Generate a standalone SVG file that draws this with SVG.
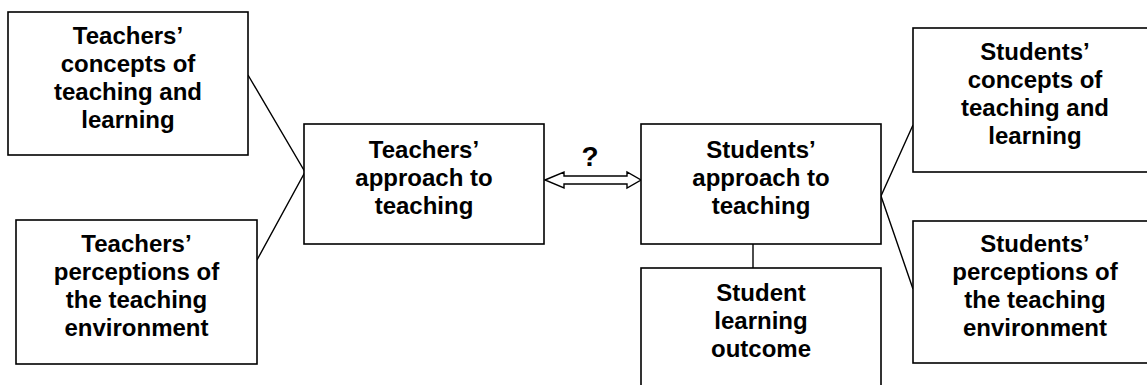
<svg xmlns="http://www.w3.org/2000/svg" width="1147" height="385" viewBox="0 0 1147 385">
<style>
.box{fill:#fff;stroke:#000;stroke-width:1.6}
.t{font-family:"Liberation Sans",Arial,sans-serif;font-weight:bold;font-size:24px;fill:#000;text-anchor:middle}
.ln{fill:none;stroke:#000;stroke-width:1.4}
</style>
<rect width="1147" height="385" fill="#fff"/>
<g id="connectors">
<polyline class="ln" points="248,75 305,172 257,260"/>
<polyline class="ln" points="913,125 881,196 913,289"/>
<line class="ln" x1="753" y1="244" x2="753" y2="268"/>
<polygon id="double-arrow" fill="#fff" stroke="#000" stroke-width="1.4" points="545,180 564,172 564,176 627,176 627,172 641,180 627,188 627,184 564,184 564,188"/>
<text class="t" x="590" y="166" style="font-size:28px">?</text>
</g>
<g id="t-concepts">
<rect class="box" x="8" y="12" width="240" height="143"/>
<text class="t" x="128" y="44">Teachers’</text>
<text class="t" x="128" y="72">concepts of</text>
<text class="t" x="128" y="100">teaching and</text>
<text class="t" x="128" y="128">learning</text>
</g>
<g id="t-perceptions">
<rect class="box" x="16" y="220" width="241" height="144"/>
<text class="t" x="136.5" y="252">Teachers’</text>
<text class="t" x="136.5" y="280">perceptions of</text>
<text class="t" x="136.5" y="308">the teaching</text>
<text class="t" x="136.5" y="336">environment</text>
</g>
<g id="t-approach">
<rect class="box" x="304" y="124" width="240" height="120"/>
<text class="t" x="424" y="158">Teachers’</text>
<text class="t" x="424" y="186">approach to</text>
<text class="t" x="424" y="214">teaching</text>
</g>
<g id="s-approach">
<rect class="box" x="641" y="124" width="240" height="120"/>
<text class="t" x="761" y="158">Students’</text>
<text class="t" x="761" y="186">approach to</text>
<text class="t" x="761" y="214">teaching</text>
</g>
<g id="s-outcome">
<rect class="box" x="641" y="268" width="240" height="130"/>
<text class="t" x="761" y="301">Student</text>
<text class="t" x="761" y="329">learning</text>
<text class="t" x="761" y="357">outcome</text>
</g>
<g id="s-concepts">
<rect class="box" x="913" y="28" width="250" height="144"/>
<text class="t" x="1035" y="60">Students’</text>
<text class="t" x="1035" y="88">concepts of</text>
<text class="t" x="1035" y="116">teaching and</text>
<text class="t" x="1035" y="144">learning</text>
</g>
<g id="s-perceptions">
<rect class="box" x="913" y="221" width="250" height="142"/>
<text class="t" x="1035" y="252">Students’</text>
<text class="t" x="1035" y="280">perceptions of</text>
<text class="t" x="1035" y="308">the teaching</text>
<text class="t" x="1035" y="336">environment</text>
</g>
</svg>
